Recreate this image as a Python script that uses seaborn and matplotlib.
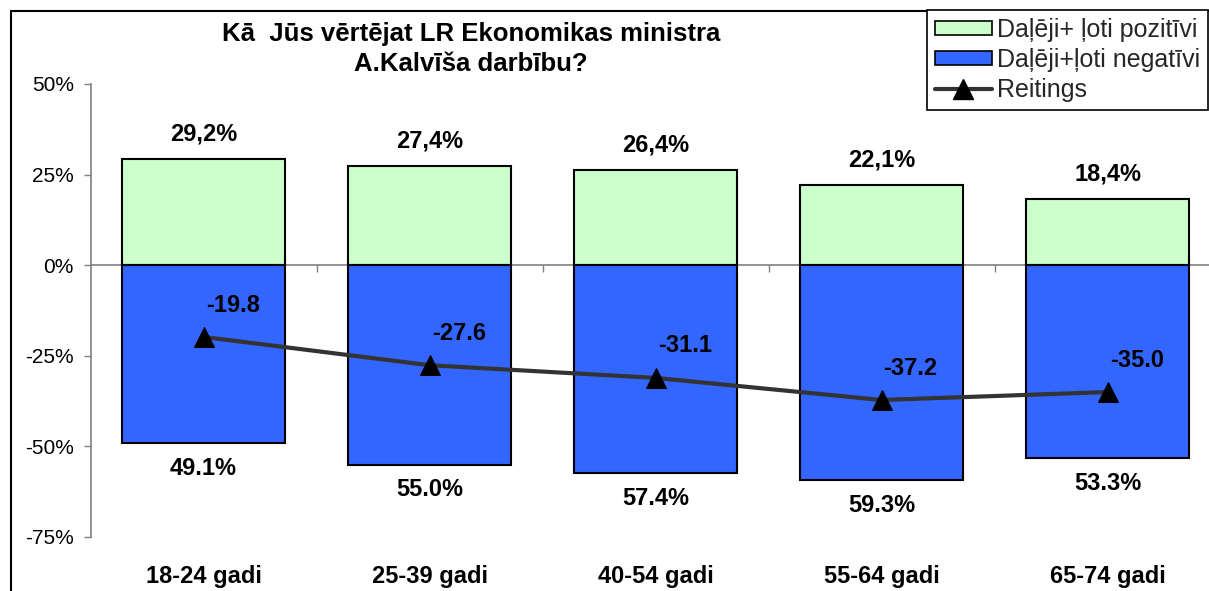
import numpy as np
import matplotlib
matplotlib.use("Agg")
import matplotlib.pyplot as plt
from matplotlib.patches import Patch, Rectangle
from matplotlib.lines import Line2D
import matplotlib.transforms as mtransforms
import seaborn as sns

categories = ["18-24 gadi", "25-39 gadi", "40-54 gadi", "55-64 gadi", "65-74 gadi"]
positive = [29.2, 27.4, 26.4, 22.1, 18.4]
negative = [49.1, 55.0, 57.4, 59.3, 53.3]
rating = [-19.8, -27.6, -31.1, -37.2, -35.0]
yticks = [-75, -50, -25, 0, 25, 50]
title = "Kā  Jūs vērtējat LR Ekonomikas ministra\nA.Kalvīša darbību?"
legend_labels = ["Daļēji+ ļoti pozitīvi", "Daļēji+ļoti negatīvi", "Reitings"]

GREEN = "#CCFFCC"
BLUE = "#3366FF"
LINE = "#333333"
GRAY = "#808080"

sns.set_theme(style="white")
plt.rcParams["font.family"] = ["Liberation Sans", "DejaVu Sans"]

W, H = 1209, 591
fig = plt.figure(figsize=(W / 100, H / 100), dpi=100)
fig.patch.set_facecolor("white")
ax = fig.add_axes([90.5 / W, 1 - 537 / H, 5 * 226 / W, (537 - 84) / H])
ax.set_facecolor("white")

sns.barplot(x=categories, y=positive, color=GREEN, saturation=1, edgecolor="black",
            linewidth=1.5, width=0.72, ax=ax, zorder=2)
sns.barplot(x=categories, y=[-v for v in negative], color=BLUE, saturation=1, edgecolor="black",
            linewidth=1.5, width=0.72, ax=ax, zorder=2)
sns.lineplot(x=np.arange(len(categories)), y=rating, color=LINE, lw=3, marker="^",
             markersize=15, markerfacecolor="black", markeredgecolor="black", ax=ax, zorder=4)

ax.set_xlim(-0.5, len(categories) - 0.5)
ax.set_ylim(-75, 50)
ax.set_yticks(yticks)
ax.set_yticklabels([f"{t}%" for t in yticks])
ax.set_xticks(np.arange(0.5, len(categories) - 1, 1))
ax.set_xticklabels([])
ax.set_xlabel("")
ax.set_ylabel("")
for s in ["top", "right"]:
    ax.spines[s].set_visible(False)
ax.spines["bottom"].set_position(("data", 0))
ax.spines["bottom"].set_color(GRAY)
ax.spines["bottom"].set_linewidth(1.2)
ax.spines["bottom"].set_zorder(1)
ax.spines["left"].set_color(GRAY)
ax.spines["left"].set_linewidth(1.2)
ax.tick_params(axis="y", which="major", direction="out", length=5, width=1, color=GRAY,
               pad=7, labelsize=15, labelcolor="black", left=True)
ax.tick_params(axis="x", which="major", direction="out", length=5, width=1, color=GRAY, bottom=True)

# value labels
for i, v in enumerate(positive):
    ax.annotate(f"{v:.1f}%".replace(".", ","), (i, v), xytext=(0, 18), textcoords="offset points",
                ha="center", va="center", fontsize=17, fontweight="bold", color="black", zorder=5)
for i, v in enumerate(negative):
    ax.annotate(f"{v:.1f}%", (i, -v), xytext=(0, -18), textcoords="offset points",
                ha="center", va="center", fontsize=17, fontweight="bold", color="black", zorder=5)
for i, v in enumerate(rating):
    ax.annotate(f"{v:.1f}", (i, v), xytext=(21, 23), textcoords="offset points",
                ha="center", va="center", fontsize=17, fontweight="bold", color="black", zorder=5)

# category labels at bottom
trans = mtransforms.blended_transform_factory(ax.transData, fig.transFigure)
for i, c in enumerate(categories):
    ax.text(i, 1 - 577 / H, c, transform=trans, ha="center", va="center",
            fontsize=17, fontweight="bold", color="black", clip_on=False)

# title
fig.text(471 / W, 1 - 49 / H, title, ha="center", va="center", fontsize=18.5,
         fontweight="bold", color="black", linespacing=1.3)

# chart-area frame
fig.patches.append(Rectangle((11 / W, -0.2), 1.2, 1 - 11 / H + 0.2, transform=fig.transFigure,
                             fill=False, edgecolor="black", linewidth=1.5))

handles = [
    Patch(facecolor=GREEN, edgecolor="black", linewidth=1.2),
    Patch(facecolor=BLUE, edgecolor="black", linewidth=1.2),
    Line2D([0], [0], color=LINE, lw=3, marker="^", markersize=15,
           markerfacecolor="black", markeredgecolor="black"),
]
leg = fig.legend(handles, legend_labels, loc="upper left", bbox_to_anchor=(927 / W, 1 - 10 / H),
                 bbox_transform=fig.transFigure, frameon=True, fancybox=False, shadow=False,
                 fontsize=18, handlelength=2.3, handleheight=0.5, handletextpad=0.2,
                 borderaxespad=0, borderpad=0.3, labelspacing=0.25)
leg.get_frame().set_edgecolor("black")
leg.get_frame().set_linewidth(1.2)
leg.get_frame().set_alpha(1)

fig.savefig("out.png", dpi=100, facecolor="white")
